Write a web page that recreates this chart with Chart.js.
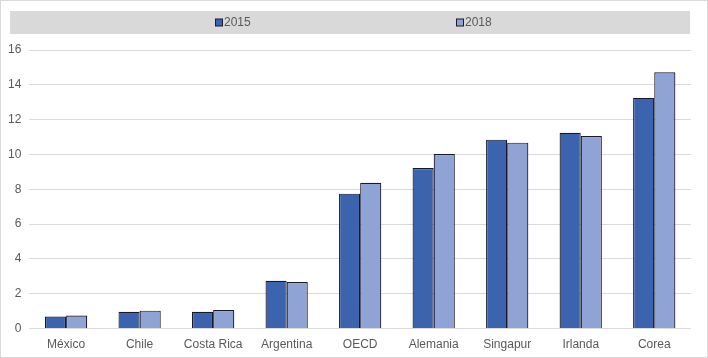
<!DOCTYPE html>
<html><head><meta charset="utf-8">
<script src="https://cdn.jsdelivr.net/npm/chart.js@4/dist/chart.umd.min.js"></script>
<style>
html,body{margin:0;padding:0;background:#fff;}
#wrap{position:absolute;left:0;top:0;width:706px;height:356px;border:1px solid #d9d9d9;}
canvas{display:block;}
</style></head>
<body>
<div id="wrap"><canvas id="c" width="706" height="356"></canvas></div>
<script>
const categories = ["México","Chile","Costa Rica","Argentina","OECD","Alemania","Singapur","Irlanda","Corea"];
const values2015 = [0.69, 0.97, 0.97, 2.75, 7.75, 9.22, 10.85, 11.25, 13.25];
const values2018 = [0.75, 1.03, 1.07, 2.68, 8.38, 10.03, 10.68, 11.06, 14.72];
const seriesLabels = ["2015", "2018"];
const yTicks = [0, 2, 4, 6, 8, 10, 12, 14, 16];

const FONT = "'Liberation Sans', Arial, sans-serif";
const TEXT = "#595959";

const legendBand = {
  id: 'legendBand',
  afterDraw(chart) {
    const ctx = chart.ctx;
    ctx.save();
    ctx.fillStyle = '#d9d9d9';
    ctx.fillRect(9, 10, 680, 23);
    ctx.font = '12px ' + FONT;
    ctx.textBaseline = 'middle';
    const xs = [214, 455];
    chart.data.datasets.forEach((ds, i) => {
      const x = xs[i], y = 21.5;
      ctx.fillStyle = ds.backgroundColor;
      ctx.fillRect(x, y - 3.5, 7, 7);
      ctx.strokeStyle = '#1b1b2b';
      ctx.lineWidth = 1;
      ctx.strokeRect(x + 0.5, y - 3.5, 7, 7);
      ctx.fillStyle = TEXT;
      ctx.fillText(ds.label, x + 9, y + 0.5);
    });
    ctx.restore();
  }
};

new Chart(document.getElementById('c'), {
  type: 'bar',
  data: {
    labels: categories,
    datasets: [
      { label: seriesLabels[0], data: values2015, backgroundColor: '#3c63ae', borderColor: '#16192b', borderWidth: 1.2, borderSkipped: 'bottom' },
      { label: seriesLabels[1], data: values2018, backgroundColor: '#8fa3d5', borderColor: '#16192b', borderWidth: 1.2, borderSkipped: 'bottom' }
    ]
  },
  options: {
    responsive: false,
    animation: false,
    layout: { padding: { top: 49, left: -1, right: 16, bottom: 4 } },
    plugins: { legend: { display: false }, tooltip: { enabled: false } },
    datasets: { bar: { categoryPercentage: 0.575, barPercentage: 1.0 } },
    scales: {
      x: {
        grid: { display: false },
        border: { display: false },
        ticks: { color: TEXT, font: { family: FONT, size: 12 }, padding: 1, maxRotation: 0 }
      },
      y: {
        min: 0, max: 16,
        afterBuildTicks(axis) { axis.ticks = yTicks.map(v => ({ value: v })); },
        grid: { color: '#d9d9d9', drawTicks: false, lineWidth: 1 },
        border: { display: false },
        ticks: { color: TEXT, font: { family: FONT, size: 12 }, padding: 8 }
      }
    }
  },
  plugins: [legendBand]
});
</script>
</body></html>
